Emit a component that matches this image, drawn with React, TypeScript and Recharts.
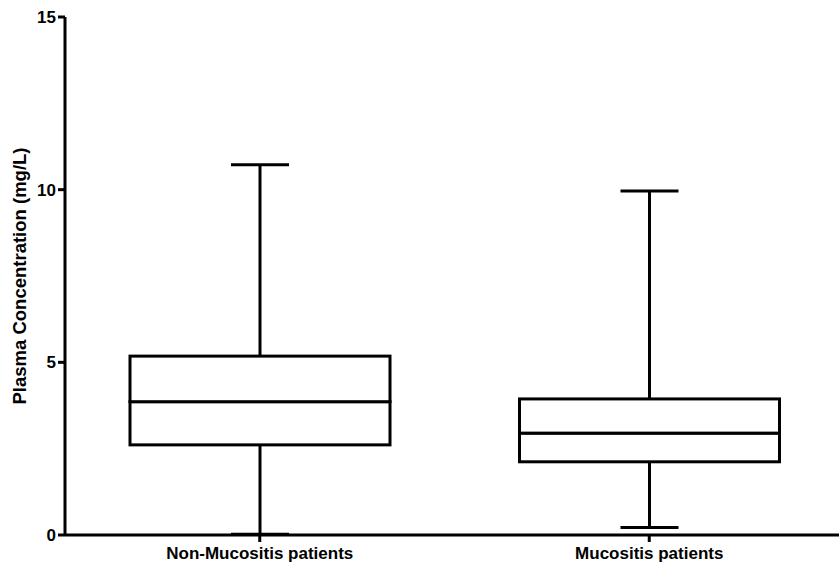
import { Bar, BarChart, XAxis, YAxis } from "recharts";

const categories = ["Non-Mucositis patients", "Mucositis patients"];
const mins = [0.02, 0.22];
const q1s = [2.61, 2.12];
const medians = [3.86, 2.95];
const q3s = [5.18, 3.94];
const maxs = [10.72, 9.96];
const yTicks = [0, 5, 10, 15];

const data = categories.map((name, i) => ({
  name,
  base: mins[i],
  lowerWhisker: q1s[i] - mins[i],
  boxLow: medians[i] - q1s[i],
  boxHigh: q3s[i] - medians[i],
  upperWhisker: maxs[i] - q3s[i],
}));

const FONT = "'Liberation Sans', Arial, sans-serif";
const CAP = 58;

function WhiskerLow(props: any) {
  const { x, y, width, height } = props;
  const cx = x + width / 2;
  return (
    <g stroke="#000" strokeWidth={3} fill="none">
      <line x1={cx} x2={cx} y1={y} y2={y + height} />
      <line x1={cx - CAP / 2} x2={cx + CAP / 2} y1={y + height} y2={y + height} />
    </g>
  );
}

function WhiskerHigh(props: any) {
  const { x, y, width, height } = props;
  const cx = x + width / 2;
  return (
    <g stroke="#000" strokeWidth={3} fill="none">
      <line x1={cx} x2={cx} y1={y} y2={y + height} />
      <line x1={cx - CAP / 2} x2={cx + CAP / 2} y1={y} y2={y} />
    </g>
  );
}

function BoxPart(props: any) {
  const { x, y, width, height } = props;
  return <rect x={x} y={y} width={width} height={height} fill="#fff" stroke="#000" strokeWidth={3} />;
}

function YLabel(props: any) {
  const { viewBox } = props;
  const cy = viewBox.y + viewBox.height / 2;
  return (
    <text
      x={19}
      y={cy}
      transform={`rotate(-90, 19, ${cy})`}
      textAnchor="middle"
      dominantBaseline="central"
      fontFamily={FONT}
      fontWeight="bold"
      fontSize={18.5}
      fill="#000"
    >
      Plasma Concentration (mg/L)
    </text>
  );
}

export default function App() {
  const tickStyle = { fill: "#000", fontFamily: FONT, fontWeight: "bold", fontSize: 17 };
  return (
    <div
      style={{
        position: "fixed",
        left: 0,
        top: 0,
        width: 839,
        height: 563,
        overflow: "hidden",
        background: "#fff",
      }}
    >
      <BarChart
        width={845}
        height={563}
        data={data}
        margin={{ top: 17, right: 1, bottom: 0, left: 0 }}
        barSize={260}
      >
        <XAxis
          dataKey="name"
          height={28}
          tick={tickStyle}
          tickSize={7}
          tickMargin={5}
          axisLine={{ stroke: "#000", strokeWidth: 3 }}
          tickLine={{ stroke: "#000", strokeWidth: 3 }}
        />
        <YAxis
          width={65}
          domain={[0, 15]}
          ticks={yTicks}
          tick={tickStyle}
          tickSize={7}
          tickMargin={2}
          axisLine={{ stroke: "#000", strokeWidth: 3 }}
          tickLine={{ stroke: "#000", strokeWidth: 3 }}
          label={<YLabel />}
        />
        <Bar dataKey="base" stackId="a" fill="none" isAnimationActive={false} />
        <Bar dataKey="lowerWhisker" stackId="a" shape={<WhiskerLow />} isAnimationActive={false} />
        <Bar dataKey="boxLow" stackId="a" shape={<BoxPart />} isAnimationActive={false} />
        <Bar dataKey="boxHigh" stackId="a" shape={<BoxPart />} isAnimationActive={false} />
        <Bar dataKey="upperWhisker" stackId="a" shape={<WhiskerHigh />} isAnimationActive={false} />
      </BarChart>
    </div>
  );
}
